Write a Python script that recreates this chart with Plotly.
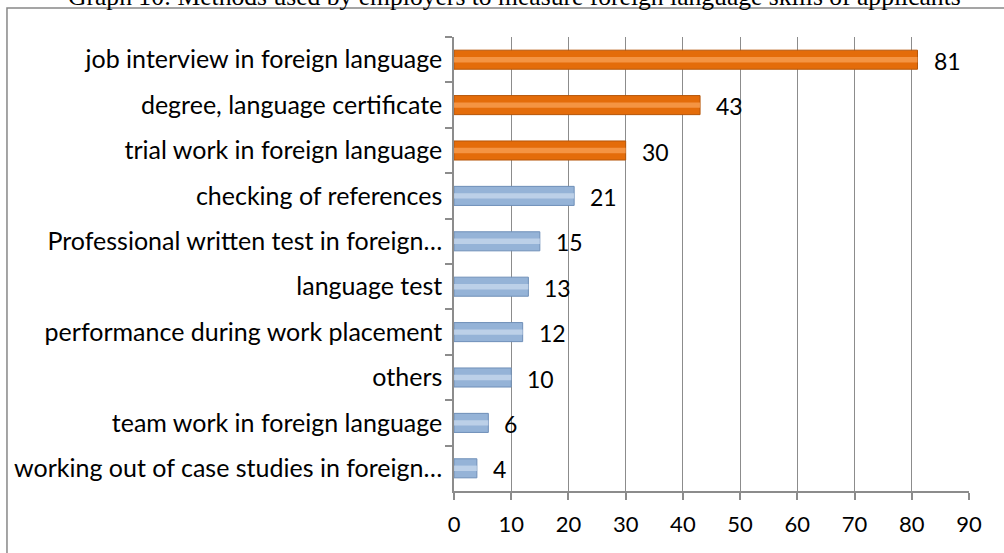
import plotly.graph_objects as go

categories = [
    "job interview in foreign language",
    "degree, language certificate",
    "trial work in foreign language",
    "checking of references",
    "Professional written test in foreign…",
    "language test",
    "performance during work placement",
    "others",
    "team work in foreign language",
    "working out of case studies in foreign…",
]
values = [81, 43, 30, 21, 15, 13, 12, 10, 6, 4]
highlight_count = 3
x_ticks = [0, 10, 20, 30, 40, 50, 60, 70, 80, 90]
title_text = "Graph 10: Methods used by employers to measure foreign language skills of applicants"

ORANGE = "#E46C0A"
ORANGE_EDGE = "#B5560A"
ORANGE_HI = "#F9A257"
BLUE = "#95B3D7"
BLUE_EDGE = "#6F8FB8"
BLUE_HI = "#C9DAEE"

base_colors = [ORANGE if i < highlight_count else BLUE for i in range(len(values))]
edge_colors = [ORANGE_EDGE if i < highlight_count else BLUE_EDGE for i in range(len(values))]
hi_colors = [ORANGE_HI if i < highlight_count else BLUE_HI for i in range(len(values))]

FONT = "Lato"

fig = go.Figure()
fig.add_trace(go.Bar(
    y=categories, x=values, orientation="h",
    marker=dict(color=base_colors, line=dict(color=edge_colors, width=1)),
    width=0.42, showlegend=False, hoverinfo="x+y",
))
fig.add_trace(go.Bar(
    y=categories, x=values, orientation="h",
    marker=dict(color=hi_colors, line=dict(width=0), opacity=0.75),
    width=0.12, showlegend=False, hoverinfo="skip",
))

for c, v in zip(categories, values):
    fig.add_annotation(
        x=v, y=c, xref="x", yref="y", text=str(v), showarrow=False,
        xanchor="left", xshift=14, yshift=-1,
        font=dict(family=FONT, size=23, color="#000000"),
    )

# outer frame (partially off-canvas)
fig.add_shape(type="rect", xref="paper", yref="paper",
              x0=-0.868, x1=1.09, y0=-0.25, y1=1.0637,
              line=dict(color="#888888", width=1.5), fillcolor="rgba(0,0,0,0)", layer="below")

fig.add_annotation(
    text=title_text, xref="paper", yref="paper",
    x=0.118, y=1.089, xanchor="center", yanchor="middle", showarrow=False,
    font=dict(family="Liberation Serif", size=25.6, color="#000000"),
)

fig.update_layout(
    width=1004, height=553,
    margin=dict(l=454, r=35, t=37, b=62, autoexpand=False),
    paper_bgcolor="white", plot_bgcolor="white",
    barmode="overlay",
    font=dict(family=FONT, size=20, color="#000000"),
    xaxis=dict(
        range=[0, 90], tickvals=x_ticks, ticktext=[str(t) for t in x_ticks],
        showgrid=True, gridcolor="#8C8C8C", gridwidth=1,
        showline=True, linecolor="#8C8C8C", linewidth=1.5,
        ticks="outside", ticklen=7, tickcolor="#8C8C8C", tickwidth=1.5,
        zeroline=False, tickfont=dict(family=FONT, size=22),
        ticklabelstandoff=6, automargin=False,
        fixedrange=True,
    ),
    yaxis=dict(
        autorange="reversed", type="category",
        showline=True, linecolor="#8C8C8C", linewidth=1.5,
        ticks="outside", ticklen=7, tickcolor="#8C8C8C", tickwidth=1.5,
        tickson="boundaries", showgrid=False,
        tickfont=dict(family=FONT, size=25), ticklabelstandoff=5,
        automargin=False, fixedrange=True,
    ),
)

fig.write_html(
    "out.html",
    config={"displayModeBar": False},
    post_script="document.body.style.margin='0';document.body.style.overflow='hidden';",
)
